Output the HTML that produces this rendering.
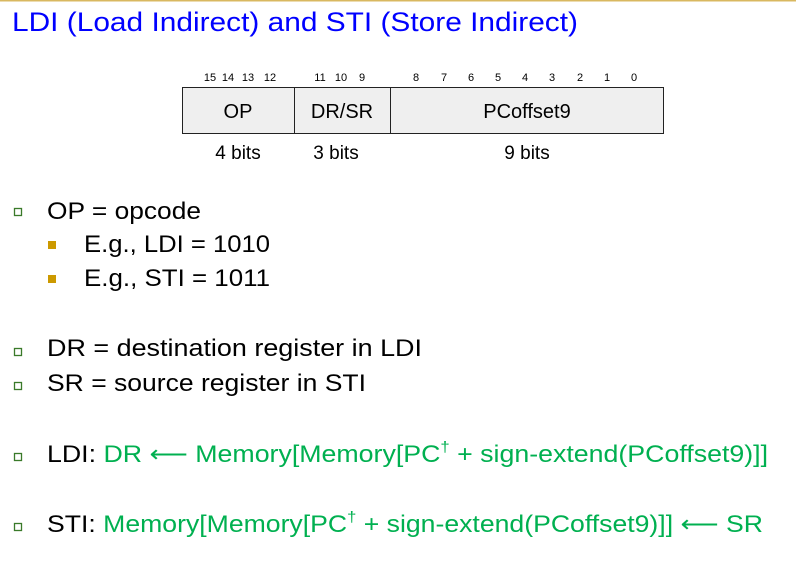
<!DOCTYPE html>
<html><head><meta charset="utf-8"><style>
html,body{margin:0;padding:0;background:#fff;}
svg{display:block;}
text{font-family:"Liberation Sans",sans-serif;}
</style></head><body>
<svg width="796" height="562" viewBox="0 0 796 562" xmlns="http://www.w3.org/2000/svg">
<rect x="0" y="0" width="796" height="1.5" fill="#d9b860"/>
<text x="12" y="31" font-size="27" fill="#0000ff" textLength="566" lengthAdjust="spacingAndGlyphs">LDI (Load Indirect) and STI (Store Indirect)</text>

<g font-size="11" fill="#000" text-anchor="middle">
<text x="210" y="81">15</text><text x="228" y="81">14</text><text x="248" y="81">13</text><text x="270" y="81">12</text>
<text x="320" y="81">11</text><text x="341" y="81">10</text><text x="362" y="81">9</text>
<text x="416" y="81">8</text><text x="444" y="81">7</text><text x="471" y="81">6</text><text x="498" y="81">5</text><text x="525" y="81">4</text><text x="552" y="81">3</text><text x="580" y="81">2</text><text x="607" y="81">1</text><text x="634" y="81">0</text>
</g>
<rect x="182.5" y="87.5" width="481" height="46" fill="#efefef" stroke="#222" stroke-width="1"/>
<line x1="294.5" y1="87.5" x2="294.5" y2="133.5" stroke="#222"/>
<line x1="390.5" y1="87.5" x2="390.5" y2="133.5" stroke="#222"/>
<g font-size="20" fill="#000" text-anchor="middle">
<text x="238" y="118">OP</text><text x="342" y="118">DR/SR</text><text x="527" y="118">PCoffset9</text>
<text x="238" y="159" font-size="19">4 bits</text><text x="336" y="159" font-size="19">3 bits</text><text x="527" y="159" font-size="19">9 bits</text>
</g>

<g fill="#fff" stroke="#3a7a2a" stroke-width="1.3">
<rect x="14.5" y="208.5" width="7" height="7"/>
<rect x="14.5" y="348.5" width="7" height="7"/>
<rect x="14.5" y="382.5" width="7" height="7"/>
<rect x="14.5" y="453.5" width="7" height="7"/>
<rect x="14.5" y="523.5" width="7" height="7"/>
</g>
<rect x="48" y="241" width="8" height="8" fill="#cc9900"/>
<rect x="48" y="275" width="8" height="8" fill="#cc9900"/>

<g font-size="24" fill="#000">
<text x="47" y="219" textLength="154" lengthAdjust="spacingAndGlyphs">OP = opcode</text>
<text x="84" y="252" textLength="186" lengthAdjust="spacingAndGlyphs">E.g., LDI = 1010</text>
<text x="84" y="286" textLength="186" lengthAdjust="spacingAndGlyphs">E.g., STI = 1011</text>
<text x="47" y="356" textLength="375" lengthAdjust="spacingAndGlyphs">DR = destination register in LDI</text>
<text x="47" y="391" textLength="319" lengthAdjust="spacingAndGlyphs">SR = source register in STI</text>
<text x="47" y="462" textLength="721" lengthAdjust="spacingAndGlyphs">LDI: <tspan fill="#00b050">DR ⟵ Memory[Memory[PC<tspan font-size="15" dy="-10">†</tspan><tspan dy="10">  + sign-extend(PCoffset9)]]</tspan></tspan></text>
<text x="47" y="532" textLength="716" lengthAdjust="spacingAndGlyphs">STI: <tspan fill="#00b050">Memory[Memory[PC<tspan font-size="15" dy="-10">†</tspan><tspan dy="10">  + sign-extend(PCoffset9)]] ⟵ SR</tspan></tspan></text>
</g>
</svg>
</body></html>
